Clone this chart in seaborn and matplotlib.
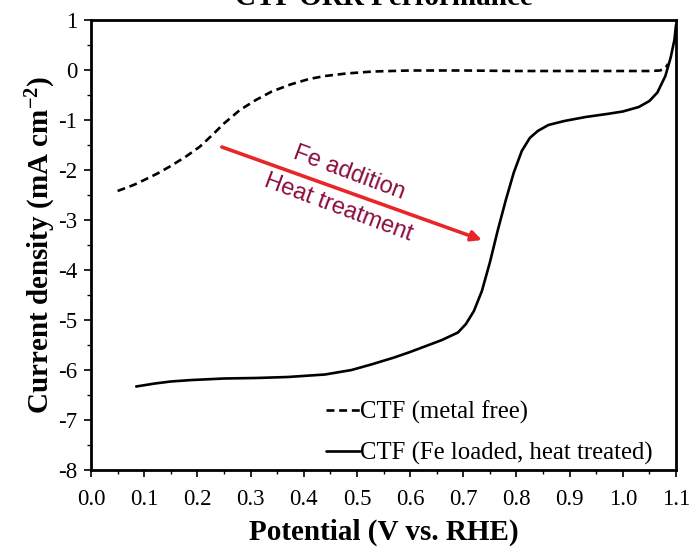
import numpy as np
import pandas as pd
import matplotlib
matplotlib.use("Agg")
import matplotlib.pyplot as plt
import seaborn as sns
from matplotlib.ticker import MultipleLocator, FormatStrFormatter

# ---- data ----
metal_free_V = [0.05, 0.08, 0.10, 0.125, 0.15, 0.18, 0.205, 0.23, 0.25, 0.28, 0.31, 0.34,
                0.375, 0.41, 0.44, 0.48, 0.53, 0.60, 0.70, 0.80, 0.90, 1.00, 1.05, 1.07,
                1.08, 1.085]
metal_free_J = [-2.42, -2.30, -2.20, -2.07, -1.92, -1.72, -1.53, -1.28, -1.07, -0.80, -0.60, -0.43,
                -0.29, -0.18, -0.12, -0.07, -0.03, -0.01, -0.01, -0.02, -0.02, -0.02, -0.02, -0.01,
                0.04, 0.12]

fe_V = [0.085, 0.12, 0.15, 0.19, 0.25, 0.31, 0.37, 0.44, 0.49, 0.53, 0.57, 0.60, 0.63, 0.66,
        0.69, 0.705, 0.72, 0.735, 0.75, 0.765, 0.78, 0.795, 0.81, 0.825, 0.84, 0.86, 0.89,
        0.93, 0.97, 1.00, 1.03, 1.05, 1.065, 1.08, 1.09, 1.097, 1.10]
fe_J = [-6.33, -6.27, -6.23, -6.20, -6.17, -6.16, -6.14, -6.09, -6.00, -5.88, -5.75, -5.64,
        -5.52, -5.40, -5.25, -5.08, -4.82, -4.42, -3.85, -3.20, -2.60, -2.05, -1.62, -1.36,
        -1.22, -1.10, -1.02, -0.94, -0.88, -0.83, -0.74, -0.62, -0.45, -0.12, 0.25, 0.60, 0.90]

label_mf = "CTF (metal free)"
label_fe = "CTF (Fe loaded, heat treated)"

df = pd.concat([
    pd.DataFrame({"V": metal_free_V, "J": metal_free_J, "series": label_mf}),
    pd.DataFrame({"V": fe_V, "J": fe_J, "series": label_fe}),
], ignore_index=True)

sns.set_theme(style="white")
plt.rcParams["font.family"] = ["Liberation Serif", "DejaVu Serif"]
plt.rcParams["mathtext.fontset"] = "custom"
plt.rcParams["mathtext.rm"] = "Liberation Serif"
plt.rcParams["mathtext.bf"] = "Liberation Serif:bold"
plt.rcParams["mathtext.default"] = "regular"
for k in ["text.color", "axes.labelcolor", "xtick.color", "ytick.color", "axes.edgecolor"]:
    plt.rcParams[k] = "black"

fig = plt.figure(figsize=(6.91, 5.52), dpi=100)
ax = fig.add_axes([91 / 691, 1 - 470 / 552, (676 - 91) / 691, (470 - 20) / 552])

sns.lineplot(data=df, x="V", y="J", hue="series", style="series",
             palette={label_mf: "black", label_fe: "black"},
             dashes={label_mf: (3.0, 1.8), label_fe: ""},
             sort=False, estimator=None, linewidth=1.9, ax=ax)

ax.set_xlim(0.0, 1.1)
ax.set_ylim(-8, 1)
ax.xaxis.set_major_locator(MultipleLocator(0.1))
ax.xaxis.set_minor_locator(MultipleLocator(0.05))
ax.yaxis.set_major_locator(MultipleLocator(1))
ax.yaxis.set_minor_locator(MultipleLocator(0.5))
ax.xaxis.set_major_formatter(FormatStrFormatter("%.1f"))
ax.yaxis.set_major_formatter(FormatStrFormatter("%d"))
ax.tick_params(which="major", direction="out", length=5, width=1.2, color="black",
               labelsize=16.5, labelcolor="black", pad=5,
               bottom=True, left=True)
ax.tick_params(axis="x", which="major", pad=9)
ax.tick_params(which="minor", direction="out", length=3, width=1.0, color="black",
               bottom=True, left=True)

for s in ax.spines.values():
    s.set_color("black")
    s.set_linewidth(2.0)
    s.set_visible(True)

ax.set_xlabel("Potential (V vs. RHE)", fontsize=21, fontweight="bold", labelpad=6)
ax.set_ylabel("Current density (mA cm$^{-2}$)", fontsize=21, fontweight="bold", labelpad=0)

# arrow + annotation
ax.annotate("", xy=(0.735, -3.40), xytext=(0.246, -1.54),
            arrowprops=dict(arrowstyle="-|>", color="#e8262a", lw=2.6,
                            mutation_scale=15, shrinkA=0, shrinkB=0))
ax.text(0.485, -2.06, "Fe addition", rotation=-20.5, color="#8b0d3e",
        fontsize=17, family=["Liberation Sans", "DejaVu Sans"],
        ha="center", va="center", rotation_mode="anchor")
ax.text(0.465, -2.76, "Heat treatment", rotation=-20.5, color="#8b0d3e",
        fontsize=17, family=["Liberation Sans", "DejaVu Sans"],
        ha="center", va="center", rotation_mode="anchor")

leg = ax.legend(loc="lower right", frameon=False, fontsize=17.8, handlelength=1.35,
                handletextpad=0.0, labelspacing=0.72, borderaxespad=0.0,
                borderpad=0.2, bbox_to_anchor=(0.968, 0.0))
for line in leg.get_lines():
    line.set_linewidth(1.9)

fig.text((91 + 676) / 2 / 691, 1 - 5 / 552, "CTF ORR Performance",
         ha="center", va="baseline", fontsize=21, fontweight="bold")

fig.savefig("out.png", dpi=100)
